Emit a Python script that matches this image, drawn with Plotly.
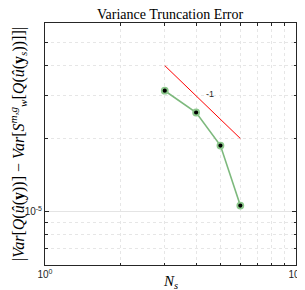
import plotly.graph_objects as go
import math

ns = [3, 4, 5, 6]
var_err = [3.15e-5, 2.56e-5, 1.87e-5, 1.056e-5]
ref_x = [3, 6]
ref_y = [4e-5, 2e-5]
slope_label = "-1"

x_major = [1, 10]
x_major_text = ["10<sup>0</sup>", "10<sup>1</sup>"]
x_minor = [2, 3, 4, 5, 6, 7, 8, 9]
y_major = [1e-5]
y_major_text = ["10<sup>-5</sup>"]
y_minor = [6e-6, 7e-6, 8e-6, 9e-6, 2e-5, 3e-5, 4e-5, 5e-5, 6e-5]

fig = go.Figure()
fig.add_trace(go.Scatter(x=ref_x, y=ref_y, mode="lines",
                         line=dict(color="red", width=1), showlegend=False))
fig.add_trace(go.Scatter(x=ns, y=var_err, mode="lines+markers",
                         line=dict(color="rgb(125,185,125)", width=1.6),
                         marker=dict(color="black", size=6,
                                     line=dict(color="rgb(140,200,140)", width=1.8)),
                         showlegend=False))

axis_common = dict(type="log", showline=True, linecolor="#262626", linewidth=1,
                   mirror="allticks", ticks="inside", ticklen=4, tickcolor="#262626",
                   showgrid=True, gridcolor="#e4e4e4", gridwidth=1, zeroline=False,
                   tickfont=dict(family="Liberation Sans", size=10, color="#262626"))

minor_common = dict(ticks="inside", ticklen=2.5, tickcolor="#262626", showgrid=True,
                    gridcolor="#e6e6e6", griddash="dot", gridwidth=1)

fig.update_xaxes(**axis_common, range=[0, 1], tickvals=x_major, ticktext=x_major_text,
                 minor=dict(tickvals=x_minor, **minor_common))
fig.update_yaxes(**axis_common, range=[math.log10(6e-6), math.log10(6e-5)],
                 tickvals=y_major, ticktext=y_major_text,
                 minor=dict(tickvals=y_minor, **minor_common))

fig.add_annotation(x=math.log10(4.53), y=math.log10(3.05e-5), xref="x", yref="y",
                   text=slope_label, showarrow=False,
                   font=dict(family="Liberation Sans", size=9, color="#262626"))

fig.add_annotation(x=0.5, y=1, xref="paper", yref="paper", yanchor="bottom",
                   text="Variance Truncation Error", showarrow=False, yshift=-1,
                   font=dict(family="Liberation Serif", size=14, color="black"))
fig.add_annotation(x=0.5, y=0, xref="paper", yref="paper", yanchor="bottom",
                   text="<i>N<sub>s</sub></i>", showarrow=False, yshift=-28,
                   font=dict(family="Liberation Serif", size=15, color="black"))
ylab = ("|<i>Var</i>[<i>Q</i>(<i>û</i>(<b>y</b>))] − <i>Var</i>[<i>S</i>"
        "<sup><i>m,g</i></sup><sub><i>w</i></sub>[<i>Q</i>(<i>û</i>(<b>y</b><sub><i>s</i></sub>))]]|")
fig.add_annotation(x=0, y=0.5, xref="paper", yref="paper", xanchor="center",
                   text=ylab, showarrow=False, textangle=-90, xshift=-27,
                   font=dict(family="Liberation Serif", size=16, color="black"))

fig.update_layout(width=305, height=290, margin=dict(l=37, r=9, t=15, b=33),
                  plot_bgcolor="white", paper_bgcolor="white")
fig.write_html("out.html")
